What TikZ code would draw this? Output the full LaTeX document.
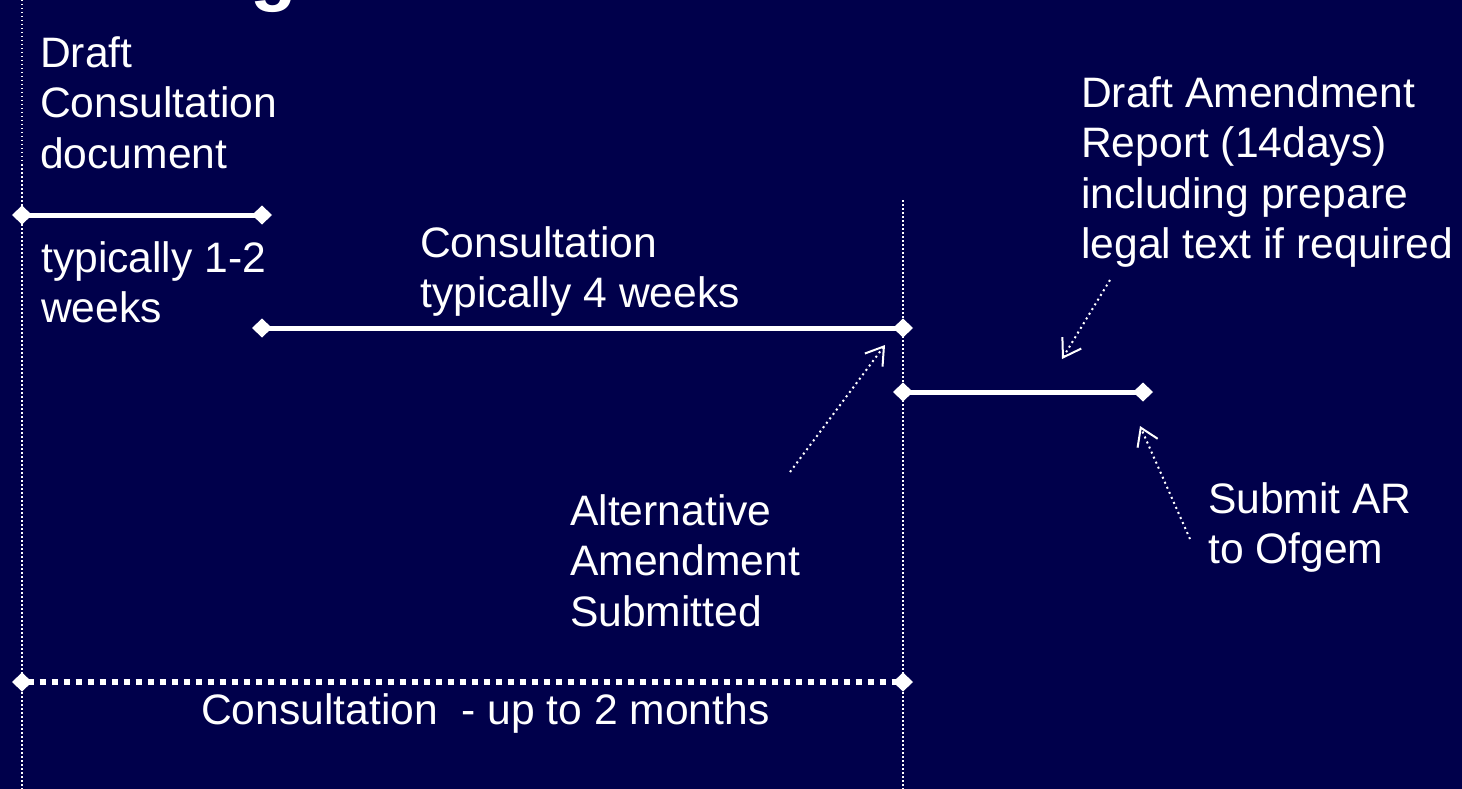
\documentclass[tikz,border=0pt]{standalone}
\usepackage{fontspec}
\setmainfont{Liberation Sans}
\usetikzlibrary{arrows.meta}
\definecolor{navy}{RGB}{0,0,75}

\tikzset{
  lbl/.style={white, anchor=north west, inner sep=0, align=left, font=\fontsize{42.6}{50.5}\selectfont},
  phase/.style={white, line width=5pt, {Diamond[length=20pt,width=19pt]}-{Diamond[length=20pt,width=19pt]}, shorten <=-10pt, shorten >=-10pt},
  spanbar/.style={phase, line width=6pt, dash pattern=on 6pt off 6pt},
  guide/.style={white, line width=1.5pt, dash pattern=on 1.5pt off 2.5pt},
  note/.style={white, line width=2pt, dash pattern=on 2pt off 3.5pt, -{Straight Barb[length=17pt,width=22pt]}},
}

\begin{document}
\begin{tikzpicture} [x=1pt, y=-1pt]
\path[clip] (0,0) rectangle (1462,789);
\fill[navy] (0,0) rectangle (1462,789);

% what is left of the title
\node[white, anchor=base west, inner sep=0, font=\fontsize{76}{90}\selectfont\bfseries] (title) at (250,-3) {g};

% guides
\coordinate (g1top) at (22,0);    \coordinate (g1bot) at (22,789);
\coordinate (g2top) at (903,200); \coordinate (g2bot) at (903,789);
\draw[guide] (g1top) -- (g1bot);
\draw[guide] (g2top) -- (g2bot);

% phases
\coordinate (draftA) at (22,215);  \coordinate (draftB) at (262,215);
\coordinate (consA) at (262,328);  \coordinate (consB) at (903,328);
\coordinate (repA) at (903,392);   \coordinate (repB) at (1143,392);
\coordinate (totA) at (22,682);    \coordinate (totB) at (903,682);
\draw[phase] (draftA) -- (draftB);
\draw[phase] (consA) -- (consB);
\draw[phase] (repA) -- (repB);
\draw[spanbar] (totA) -- (totB);

% texts
\node[lbl] (draft) at (40,36) {Draft\\Consultation\\document};
\node[lbl] (dur) at (41,241) {typically 1-2\\weeks};
\node[lbl] (cons) at (420,226) {Consultation\\typically 4 weeks};
\node[lbl] (report) at (1081,76) {Draft Amendment\\Report (14days)\\including prepare\\legal text if required};
\node[lbl] (alt) at (570,494) {Alternative\\Amendment\\Submitted};
\node[lbl] (ofgem) at (1208,482) {Submit AR\\to Ofgem};
\node[lbl, anchor=base west] (total) at (201,724) {Consultation\ \ - up to 2 months};

% pointers
\coordinate (altT) at (790,472);   \coordinate (altH) at (885,345);
\coordinate (repT) at (1110,280);  \coordinate (repH) at (1062,359);
\coordinate (ofgT) at (1190,539);  \coordinate (ofgH) at (1140,426);
\draw[note] (altT) -- (altH);
\draw[note] (repT) -- (repH);
\draw[note] (ofgT) -- (ofgH);

\end{tikzpicture}
\end{document}
